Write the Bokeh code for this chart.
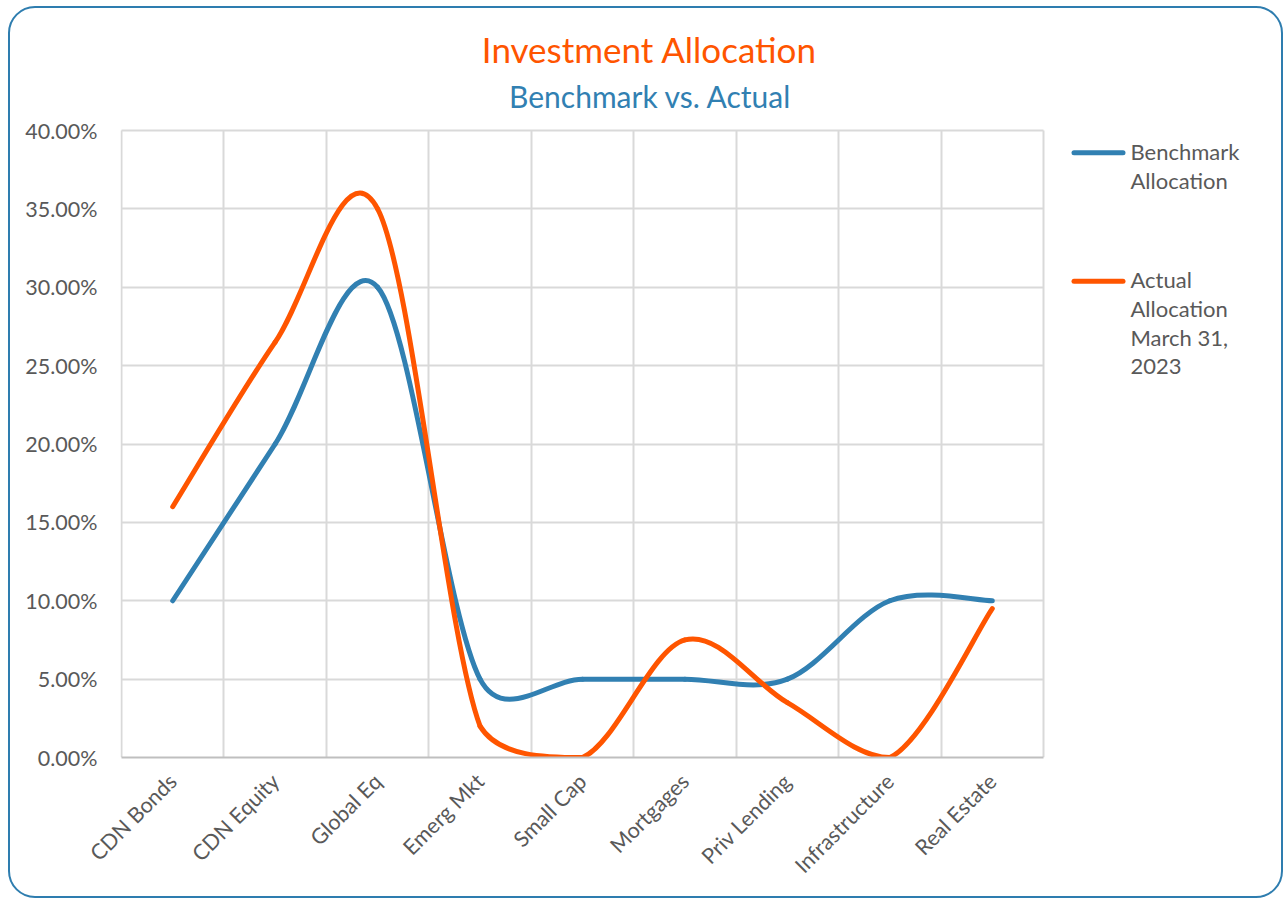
import math
from bokeh.plotting import figure
from bokeh.models import Range1d, FixedTicker, PrintfTickFormatter, Label, Grid
from bokeh.embed import file_html
from bokeh.resources import INLINE

# ---------------- data ----------------
categories = ["CDN Bonds", "CDN Equity", "Global Eq", "Emerg Mkt", "Small Cap",
              "Mortgages", "Priv Lending", "Infrastructure", "Real Estate"]
benchmark = [10, 20, 30, 5, 5, 5, 5, 10, 10]          # % benchmark allocation
actual = [16, 26.5, 35, 2, 0, 7.5, 3.5, 0, 9.5]       # % actual allocation Mar 31, 2023
y_ticks = [0, 5, 10, 15, 20, 25, 30, 35, 40]
title_text = "Investment Allocation"
subtitle_text = "Benchmark vs. Actual"
legend_benchmark = ["Benchmark", "Allocation"]
legend_actual = ["Actual", "Allocation", "March 31,", "2023"]

# ---------------- style ----------------
BLUE = "#3180B2"
ORANGE = "#FF5500"
GREY_TXT = "#595959"
GRID = "#D9D9D9"
FONT = "Lato"

W, H = 1275, 892
OX, OY = 10, 8                       # canvas origin on the page
ML, MR, MT, MB = 110, 0, 0, 143
FW, FH = W - ML - MR, H - MT - MB
NCAT = len(categories)
KX = 922 / NCAT                      # px per category (plot area 922 px wide)
KY = 627 / 40                        # px per percent (plot area 627 px tall)
PX0, PX1 = 0.5, NCAT + 0.5           # plot-area x extent (data)
PY0, PY1 = y_ticks[0], y_ticks[-1]   # plot-area y extent (data)
X0 = PX0 - 1 / KX
X1 = X0 + FW / KX
Y0 = 0
Y1 = FH / KY
TXT_DY = -2                          # small optical correction for text rows


def dx(px):
    """page pixel column -> data x"""
    return X0 + (px - OX - ML) / KX


def dy(py):
    """page pixel row -> data y"""
    return Y0 + (OY + MT + FH - py) / KY


p = figure(width=W, height=H, x_range=Range1d(X0, X1), y_range=Range1d(Y0, Y1),
           output_backend="svg", toolbar_location=None,
           min_border_left=ML, min_border_right=MR, min_border_top=MT, min_border_bottom=MB)
p.styles = {"border": "2px solid #2E7DAF", "border-radius": "27px",
            "margin-left": "8px", "margin-top": "6px"}
p.border_fill_color = None
p.background_fill_color = None
p.outline_line_color = None

# ---------------- axes ----------------
xs = list(range(1, NCAT + 1))
p.xaxis.ticker = FixedTicker(ticks=xs)
p.xaxis.bounds = (PX0, PX1)
p.xaxis.major_label_overrides = {i: c for i, c in zip(xs, categories)}
p.xaxis.major_label_orientation = math.pi / 4
p.xaxis.major_tick_line_color = None
p.xaxis.major_tick_out = 0
p.xaxis.major_tick_in = 0
p.xaxis.minor_tick_line_color = None
p.xaxis.axis_line_color = "#BFBFBF"
p.xaxis.axis_line_width = 2
p.xaxis.major_label_text_font = FONT
p.xaxis.major_label_text_font_size = "21.5px"
p.xaxis.major_label_text_color = GREY_TXT
p.xaxis.major_label_standoff = 20

p.yaxis.ticker = FixedTicker(ticks=y_ticks)
p.yaxis.bounds = (PY0, PY1)
p.yaxis.formatter = PrintfTickFormatter(format="%.2f%%")
p.yaxis.axis_line_color = None
p.yaxis.major_tick_line_color = None
p.yaxis.major_tick_out = 0
p.yaxis.major_tick_in = 0
p.yaxis.minor_tick_line_color = None
p.yaxis.major_label_text_font = FONT
p.yaxis.major_label_text_font_size = "21.5px"
p.yaxis.major_label_text_color = GREY_TXT
p.yaxis.major_label_standoff = 23

grid_x = [PX0 + i for i in range(NCAT + 1)]
if "cross_bounds" in Grid.properties():
    p.xgrid.ticker = FixedTicker(ticks=grid_x)
    p.xgrid.cross_bounds = (PY0, PY1)
    p.xgrid.grid_line_color = GRID
    p.xgrid.grid_line_width = 2
    p.ygrid.cross_bounds = (PX0, PX1)
    p.ygrid.grid_line_color = GRID
    p.ygrid.grid_line_width = 2
else:
    p.xgrid.visible = False
    p.ygrid.visible = False
    p.segment(x0=grid_x, x1=grid_x, y0=[PY0] * len(grid_x), y1=[PY1] * len(grid_x),
              line_color=GRID, line_width=2)
    gy = y_ticks[1:]
    p.segment(x0=[PX0] * len(gy), x1=[PX1] * len(gy), y0=gy, y1=gy,
              line_color=GRID, line_width=2)


# ---------------- Excel-like smoothed lines (cubic Bezier segments) ----------------
def smooth(xv, yv):
    P = [(x * KX, y * KY) for x, y in zip(xv, yv)]
    n = len(P)
    out = {k: [] for k in ("x0", "y0", "x1", "y1", "cx0", "cy0", "cx1", "cy1")}
    for i in range(n - 1):
        p0, p1, p2, p3 = P[max(i - 1, 0)], P[i], P[i + 1], P[min(i + 2, n - 1)]
        d02 = math.dist(p0, p2)
        d12 = math.dist(p1, p2)
        d13 = math.dist(p1, p3)
        f1 = 1 / 6 if d02 / 6 < d12 / 2 else d12 / (2 * d02)
        f2 = 1 / 6 if d13 / 6 < d12 / 2 else d12 / (2 * d13)
        c1 = (p1[0] + (p2[0] - p0[0]) * f1, p1[1] + (p2[1] - p0[1]) * f1)
        c2 = (p2[0] - (p3[0] - p1[0]) * f2, p2[1] - (p3[1] - p1[1]) * f2)
        out["x0"].append(p1[0] / KX); out["y0"].append(p1[1] / KY)
        out["x1"].append(p2[0] / KX); out["y1"].append(p2[1] / KY)
        out["cx0"].append(c1[0] / KX); out["cy0"].append(max(c1[1] / KY, PY0))
        out["cx1"].append(c2[0] / KX); out["cy1"].append(max(c2[1] / KY, PY0))
    return out


p.bezier(line_color=BLUE, line_width=5, line_cap="round", **smooth(xs, benchmark))
p.bezier(line_color=ORANGE, line_width=5, line_cap="round", **smooth(xs, actual))

# ---------------- titles ----------------
p.add_layout(Label(x=dx(649), y=dy(50.5 + TXT_DY), text=title_text, text_align="center",
                   text_baseline="middle", text_font=FONT, text_font_size="35px",
                   text_color=ORANGE))
p.add_layout(Label(x=dx(650), y=dy(97.8 + TXT_DY), text=subtitle_text, text_align="center",
                   text_baseline="middle", text_font=FONT, text_font_size="30px",
                   text_color=BLUE))

# ---------------- legend (Excel-like wrapped entries on the right) ----------------
legend_rows = [(BLUE, legend_benchmark, [152.5, 182]),
               (ORANGE, legend_actual, [281, 310, 339, 367.5])]
p.segment(x0=[dx(1073.5)] * 2, x1=[dx(1122.5)] * 2,
          y0=[dy(152.3), dy(280.7)], y1=[dy(152.3), dy(280.7)],
          line_color=[BLUE, ORANGE], line_width=5, line_cap="round")
for color, lines, rows in legend_rows:
    for t, r in zip(lines, rows):
        p.add_layout(Label(x=dx(1130), y=dy(r + TXT_DY), text=t, text_align="left",
                           text_baseline="middle", text_font=FONT, text_font_size="22px",
                           text_color=GREY_TXT))

open("out.html", "w").write(file_html(p, INLINE))
